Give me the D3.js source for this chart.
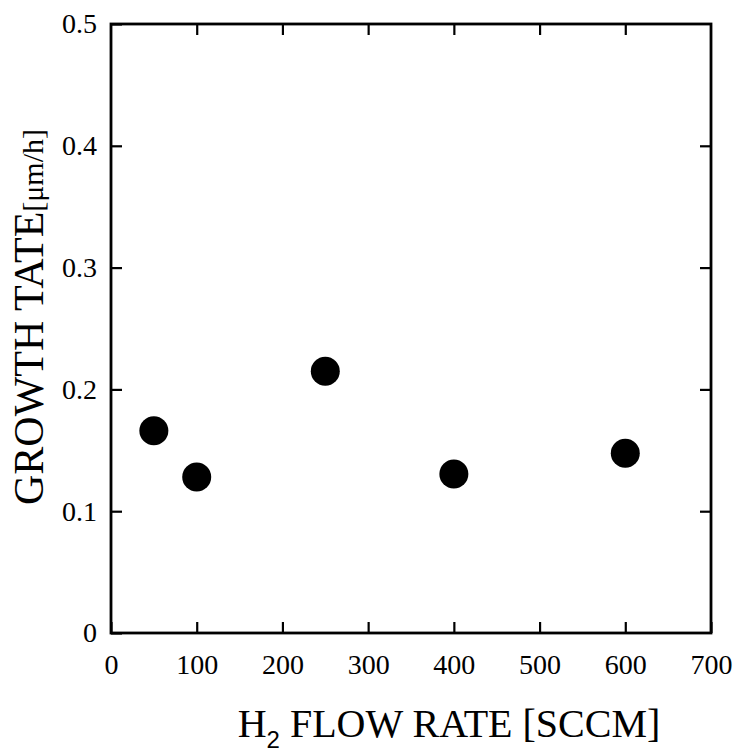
<!DOCTYPE html>
<html>
<head>
<meta charset="utf-8">
<script src="https://cdn.jsdelivr.net/npm/d3@7"></script>
<style>
  body { margin: 0; background: #fff; }
  svg text { font-family: "Liberation Serif", "DejaVu Serif", serif; fill: #000; }
</style>
</head>
<body>
<div id="chart"></div>
<script>
// data
const flowRate = [50, 100, 250, 400, 600];
const growthRate = [0.166, 0.128, 0.215, 0.1305, 0.1475];
const xTicks = [0, 100, 200, 300, 400, 500, 600, 700];
const yTicks = [0, 0.1, 0.2, 0.3, 0.4, 0.5];

const width = 738, height = 756;
const margin = { top: 24, right: 27, bottom: 123, left: 111 };
const serif = '"Liberation Serif", "DejaVu Serif", serif';

const svg = d3.select('#chart')
    .append('svg')
    .attr('width', width)
    .attr('height', height);

const x = d3.scaleLinear().domain([0, 700]).range([margin.left, width - margin.right]);
const y = d3.scaleLinear().domain([0, 0.5]).range([height - margin.bottom, margin.top]);

const yFmt = d => d === 0 ? '0' : d3.format('.1f')(d);

// bottom axis with labels
const gx = svg.append('g')
    .attr('transform', `translate(0, ${y(0)})`)
    .call(d3.axisBottom(x).tickValues(xTicks).tickSizeInner(-11).tickSizeOuter(0).tickPadding(21));
// top axis, ticks only
const gxt = svg.append('g')
    .attr('transform', `translate(0, ${y(0.5)})`)
    .call(d3.axisTop(x).tickValues(xTicks.slice(1, -1)).tickSizeInner(-11).tickSizeOuter(0).tickFormat(''));
// left axis with labels
const gy = svg.append('g')
    .attr('transform', `translate(${x(0)}, 0)`)
    .call(d3.axisLeft(y).tickValues(yTicks).tickFormat(yFmt).tickSizeInner(-11).tickSizeOuter(0).tickPadding(14));
// right axis, ticks only
const gyr = svg.append('g')
    .attr('transform', `translate(${x(700)}, 0)`)
    .call(d3.axisRight(y).tickValues(yTicks.slice(1, -1)).tickSizeInner(-11).tickSizeOuter(0).tickFormat(''));

[gx, gxt, gy, gyr].forEach(g => {
    g.attr('font-size', 28).attr('font-family', serif);
    g.select('.domain').remove();
    g.selectAll('.tick line').attr('stroke', '#000').attr('stroke-width', 2.2);
    g.selectAll('.tick text')
        .style('font-size', '28px')
        .style('font-family', serif);
});

// frame
svg.append('rect')
    .attr('x', x(0))
    .attr('y', y(0.5))
    .attr('width', x(700) - x(0))
    .attr('height', y(0) - y(0.5))
    .attr('fill', 'none')
    .attr('stroke', '#000')
    .attr('stroke-width', 2.8);

// points
svg.append('g')
    .selectAll('circle')
    .data(flowRate)
    .enter()
    .append('circle')
    .attr('cx', d => x(d))
    .attr('cy', (d, i) => y(growthRate[i]))
    .attr('r', 14.5)
    .attr('fill', '#000');

// x title
const xt = svg.append('text')
    .attr('x', 449)
    .attr('y', 737)
    .attr('text-anchor', 'middle')
    .style('font-size', '40px');
xt.append('tspan').text('H');
xt.append('tspan').attr('dy', 11).style('font-size', '24px')
    .style('font-family', '"Liberation Sans", sans-serif').text('2');
xt.append('tspan').attr('dy', -11).text(' FLOW RATE [SCCM]');

// y title
const yt = svg.append('text')
    .attr('transform', 'translate(43, 317) rotate(-90)')
    .attr('text-anchor', 'middle')
    .style('font-size', '42px');
yt.append('tspan').text('GROWTH TATE');
yt.append('tspan').style('font-size', '30px').text('[μm/h]');
</script>
</body>
</html>
